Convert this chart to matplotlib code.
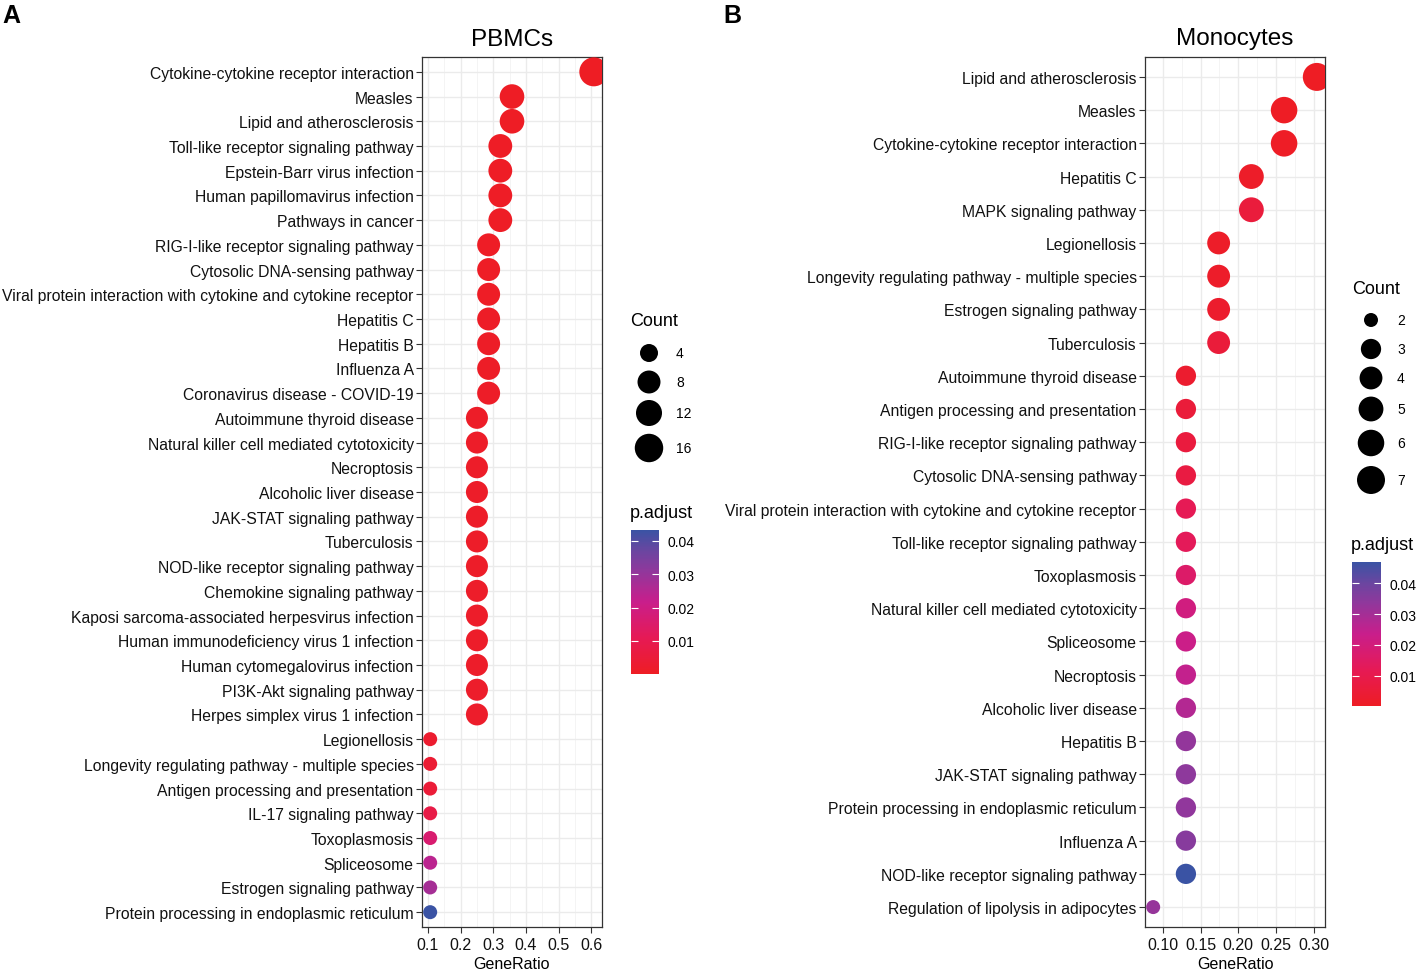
import numpy as np
import matplotlib
matplotlib.use('Agg')
import matplotlib.pyplot as plt
from matplotlib.colors import LinearSegmentedColormap, Normalize
from matplotlib.cm import ScalarMappable

plt.rcParams['font.family'] = ['Liberation Sans', 'DejaVu Sans']

# Panel A - PBMCs (top to bottom)
pbmc_terms = [
    'Cytokine-cytokine receptor interaction', 'Measles', 'Lipid and atherosclerosis',
    'Toll-like receptor signaling pathway', 'Epstein-Barr virus infection',
    'Human papillomavirus infection', 'Pathways in cancer',
    'RIG-I-like receptor signaling pathway', 'Cytosolic DNA-sensing pathway',
    'Viral protein interaction with cytokine and cytokine receptor', 'Hepatitis C',
    'Hepatitis B', 'Influenza A', 'Coronavirus disease - COVID-19',
    'Autoimmune thyroid disease', 'Natural killer cell mediated cytotoxicity',
    'Necroptosis', 'Alcoholic liver disease', 'JAK-STAT signaling pathway',
    'Tuberculosis', 'NOD-like receptor signaling pathway', 'Chemokine signaling pathway',
    'Kaposi sarcoma-associated herpesvirus infection',
    'Human immunodeficiency virus 1 infection', 'Human cytomegalovirus infection',
    'PI3K-Akt signaling pathway', 'Herpes simplex virus 1 infection', 'Legionellosis',
    'Longevity regulating pathway - multiple species',
    'Antigen processing and presentation', 'IL-17 signaling pathway', 'Toxoplasmosis',
    'Spliceosome', 'Estrogen signaling pathway',
    'Protein processing in endoplasmic reticulum',
]
pbmc_count = [17, 10, 10, 9, 9, 9, 9, 8, 8, 8, 8, 8, 8, 8,
              7, 7, 7, 7, 7, 7, 7, 7, 7, 7, 7, 7, 7,
              3, 3, 3, 3, 3, 3, 3, 3]
pbmc_total = 28
pbmc_padj = [0.0001, 0.0003, 0.0004, 0.0005, 0.0006, 0.0006, 0.0007, 0.0006, 0.0007, 0.0005,
             0.0008, 0.0008, 0.0009, 0.0010, 0.0011, 0.0012, 0.0012, 0.0013, 0.0013, 0.0014,
             0.0014, 0.0015, 0.0015, 0.0016, 0.0016, 0.0017, 0.0017, 0.0025, 0.0035, 0.0045,
             0.0080, 0.0160, 0.0240, 0.0275, 0.0433]

# Panel B - Monocytes (top to bottom)
mono_terms = [
    'Lipid and atherosclerosis', 'Measles', 'Cytokine-cytokine receptor interaction',
    'Hepatitis C', 'MAPK signaling pathway', 'Legionellosis',
    'Longevity regulating pathway - multiple species', 'Estrogen signaling pathway',
    'Tuberculosis', 'Autoimmune thyroid disease', 'Antigen processing and presentation',
    'RIG-I-like receptor signaling pathway', 'Cytosolic DNA-sensing pathway',
    'Viral protein interaction with cytokine and cytokine receptor',
    'Toll-like receptor signaling pathway', 'Toxoplasmosis',
    'Natural killer cell mediated cytotoxicity', 'Spliceosome', 'Necroptosis',
    'Alcoholic liver disease', 'Hepatitis B', 'JAK-STAT signaling pathway',
    'Protein processing in endoplasmic reticulum', 'Influenza A',
    'NOD-like receptor signaling pathway', 'Regulation of lipolysis in adipocytes',
]
mono_count = [7, 6, 6, 5, 5, 4, 4, 4, 4, 3, 3, 3, 3, 3, 3, 3, 3, 3, 3, 3, 3, 3, 3, 3, 3, 2]
mono_total = 23
mono_padj = [0.0003, 0.0006, 0.0008, 0.0015, 0.0060, 0.0015, 0.0018, 0.0025, 0.0055,
             0.0030, 0.0055, 0.0065, 0.0075, 0.0120, 0.0130, 0.0160, 0.0210, 0.0230,
             0.0245, 0.0275, 0.0330, 0.0340, 0.0335, 0.0350, 0.0468, 0.0325]

cmap = LinearSegmentedColormap.from_list('padj', [
    (0.0, '#EE1D24'), (0.25, '#E61A55'), (0.5, '#C91E8B'),
    (0.72, '#8F389C'), (0.85, '#6C45A0'), (1.0, '#3A53A4')])

W, H = 1417, 970
fig = plt.figure(figsize=(W / 100, H / 100), dpi=100)


def fx(px):
    return px / W


def fy(py):
    return 1 - py / H


def size_of(c, cmin, cmax, dmin=14, dmax=29):
    # ggplot-like area scaling, diameter in px -> marker area in pt^2
    d = dmin + (dmax - dmin) * np.sqrt((np.asarray(c, float) - cmin) / (cmax - cmin))
    return (d * 0.72) ** 2


def dotplot(rect, terms, counts, total, padj, title, xticks, xfmt, dmax):
    ax = fig.add_axes(rect)
    n = len(terms)
    ratio = np.array(counts) / total
    y = np.arange(n)[::-1]
    norm = Normalize(min(padj), max(padj))
    cmin, cmax = min(counts), max(counts)
    ax.scatter(ratio, y, s=size_of(counts, cmin, cmax, dmax=dmax), c=padj, cmap=cmap,
               norm=norm, edgecolors='none', zorder=3)
    rng = ratio.max() - ratio.min()
    ax.set_xlim(ratio.min() - 0.05 * rng, ratio.max() + 0.05 * rng)
    ax.set_ylim(-0.6, n - 0.4)
    ax.set_yticks(y)
    ax.set_yticklabels(terms, fontsize=11.35, color='#111111')
    ax.set_xticks(xticks)
    ax.set_xticklabels([xfmt % t for t in xticks], fontsize=11.5, color='#111111')
    minor = [(a + b) / 2 for a, b in zip(xticks[:-1], xticks[1:])]
    ax.set_xticks(minor, minor=True)
    ax.grid(True, which='major', color='#EBEBEB', lw=1.0, zorder=0)
    ax.grid(True, which='minor', axis='x', color='#F2F2F2', lw=0.6, zorder=0)
    ax.set_axisbelow(True)
    ax.tick_params(which='major', length=4, width=0.8, color='#333333', pad=2)
    ax.tick_params(axis='x', which='major', pad=3)
    ax.tick_params(which='minor', length=0)
    for sp in ax.spines.values():
        sp.set_color('#333333')
        sp.set_linewidth(0.9)
    ax.set_xlabel('GeneRatio', fontsize=11.5, labelpad=3)
    ax.set_title(title, fontsize=17.5, pad=9)
    return ax, norm


axA, normA = dotplot([fx(422), fy(928), fx(180), 870 / H], pbmc_terms, pbmc_count,
                     pbmc_total, pbmc_padj, 'PBMCs', [0.1, 0.2, 0.3, 0.4, 0.5, 0.6], '%.1f', 29)
axB, normB = dotplot([fx(1145), fy(928), fx(180), 870 / H], mono_terms, mono_count,
                     mono_total, mono_padj, 'Monocytes', [0.10, 0.15, 0.20, 0.25, 0.30],
                     '%.2f', 28)

fig.text(fx(2), fy(16), 'A', fontsize=18, fontweight='bold', va='center', ha='left')
fig.text(fx(723), fy(16), 'B', fontsize=18, fontweight='bold', va='center', ha='left')


def legend(title_xy, circ_x, lab_x, levels, ys, cmin, cmax, dmax, cb_rect, norm):
    fig.text(fx(title_xy[0]), fy(title_xy[1]), 'Count', fontsize=13, va='center')
    lax = fig.add_axes([0, 0, 1, 1], facecolor='none')
    lax.set_xlim(0, W)
    lax.set_ylim(H, 0)
    lax.axis('off')
    lax.scatter([circ_x] * len(levels), ys, s=size_of(levels, cmin, cmax, dmax=dmax),
                c='black', edgecolors='none')
    for lv, yy in zip(levels, ys):
        fig.text(fx(lab_x), fy(yy), str(lv), fontsize=10, va='center')
    x0, y0, w, h = cb_rect
    fig.text(fx(x0 - 1), fy(y0 - 17), 'p.adjust', fontsize=13, va='center')
    cax = fig.add_axes([fx(x0), fy(y0 + h), w / W, h / H])
    cb = fig.colorbar(ScalarMappable(norm=norm, cmap=cmap), cax=cax)
    cb.outline.set_visible(False)
    cb.set_ticks([0.01, 0.02, 0.03, 0.04])
    cb.set_ticklabels(['0.01', '0.02', '0.03', '0.04'])
    cax.tick_params(left=True, right=True, direction='in', color='white', length=5,
                    width=0.8, labelsize=10, pad=6)


legend((630, 322), 649, 676, [4, 8, 12, 16], [354, 383, 414, 449],
       min(pbmc_count), max(pbmc_count), 29, (631, 531, 28, 144), normA)
legend((1352, 290), 1371, 1397, [2, 3, 4, 5, 6, 7], [321, 350, 379, 410, 444, 481],
       min(mono_count), max(mono_count), 28, (1352, 563, 29, 144), normB)

fig.savefig('out.png', dpi=100)
